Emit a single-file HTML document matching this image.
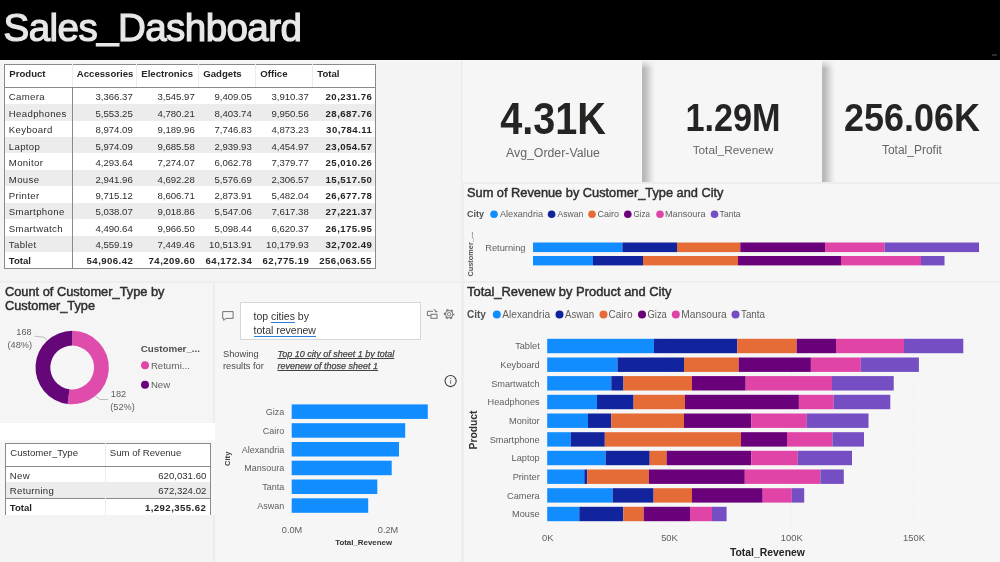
<!DOCTYPE html>
<html lang="en">
<head>
<meta charset="utf-8">
<title>Sales_Dashboard</title>
<style>
*{box-sizing:border-box;margin:0;padding:0}
html,body{width:1000px;height:562px;overflow:hidden}
body{background:#f3f3f3;font-family:'Liberation Sans',sans-serif;color:#333;position:relative}
.abs{position:absolute}
.hdr{left:0;top:0;width:1000px;height:59.7px;background:#000}
.hdr h1{position:absolute;left:3.6px;top:4.6px;font-size:38.6px;line-height:46px;font-weight:400;color:#e8e8e8;letter-spacing:-0.6px;-webkit-text-stroke:1.2px #e8e8e8;white-space:nowrap}
.hdr h1 span{position:relative;top:-2.5px}
.panel{position:absolute;background:#f4f4f4}
table{border-collapse:collapse;table-layout:fixed;font-size:9.6px;color:#2e2e2e;background:#fff}
td,th{white-space:nowrap;overflow:hidden;padding:0 4px;font-weight:400}
.t1{position:absolute;left:4.3px;top:64.2px;width:372px;border:1px solid #8a8a8a}
.t1 th{height:23px;text-align:left;font-weight:700;vertical-align:top;padding-top:3.3px;border-bottom:1px solid #8a8a8a;border-right:1px solid #ececec;color:#252525}
.t1 th:last-child{border-right:none}
.t1 td{height:16.45px;text-align:right;line-height:12px;vertical-align:bottom;padding-bottom:0.8px}
.t1 td:first-child{text-align:left;border-right:1px solid #8a8a8a;letter-spacing:0.35px;padding-left:3.5px}
.t1 td:last-child{font-weight:700;color:#252525;letter-spacing:0.45px;padding-right:3px}
.t1 tr.alt td{background:#ececec}
.t1 tr.tot td{font-weight:700;color:#252525;letter-spacing:0.45px;padding-right:3.5px}
.t1 tr.tot td:first-child{letter-spacing:0}
.card{position:absolute;top:59.8px;height:122.6px;background:#f6f6f6;text-align:center}
.card .v{position:absolute;font-weight:700;color:#252423;white-space:nowrap;transform-origin:50% 50%}
.shd{position:absolute;left:0;top:0;bottom:0;width:14px;background:linear-gradient(to right,#b7b7b7 0,#bcbcbc 22%,#d2d2d2 45%,#e6e6e6 68%,#f1f1f1 86%,#f6f6f6 100%);-webkit-mask-image:linear-gradient(to bottom,transparent 0,#000 9px);mask-image:linear-gradient(to bottom,transparent 0,#000 9px)}
.card .l{position:absolute;font-size:12px;color:#666;white-space:nowrap}
.t2{position:absolute;left:5.3px;top:443px;width:205px;border:1px solid #8a8a8a;border-bottom:none}
.t2 th{height:22.5px;text-align:left;vertical-align:top;padding-top:3px;border-bottom:1px solid #8a8a8a;color:#333}
.t2 th:first-child{border-right:1px solid #ececec}
.t2 td{height:16.3px;line-height:12px;vertical-align:bottom;padding-bottom:0.8px;text-align:right}
.t2 td:first-child{text-align:left;border-right:1px solid #ececec;letter-spacing:0.3px;padding-left:3.5px}
.t2 tr.alt td{background:#ececec}
.t2 tr.tot td{font-weight:700;color:#252525;border-top:1px solid #8a8a8a;letter-spacing:0.45px}
.t2 tr.tot td:first-child{letter-spacing:0}
svg{position:absolute;left:0;top:0;overflow:visible}
svg text{font-family:'Liberation Sans',sans-serif}
.qbox{position:absolute;left:240px;top:302px;width:181px;height:38px;background:#fff;border:1px solid #d6d6d6;font-size:10.5px;line-height:13.9px;color:#333;padding:6.7px 0 0 12.5px}
.qbox u{text-decoration:none;border-bottom:1.4px solid #2b80d6;padding-bottom:0px}
.show{position:absolute;left:223px;top:347.9px;font-size:9.3px;line-height:12.3px;color:#4a4a4a}
.lnk{position:absolute;left:277.5px;top:347.9px;font-size:9px;line-height:12.3px;color:#444;font-style:italic;text-decoration:underline;white-space:nowrap;-webkit-text-stroke:0.25px #444}
</style>
</head>
<body>
<div class="abs hdr"><h1>Sales<span>_</span>Dashboard</h1><i class="abs" style="left:991.5px;top:54px;width:5.5px;height:1.5px;background:#2c2c2c"></i></div>
<div class="panel" style="left:0px;top:59.7px;width:461.2px;height:221.7px;background:#f4f4f4"></div>
<div class="panel" style="left:463.6px;top:182.6px;width:536.4px;height:98.8px;background:#f6f6f6"></div>
<div class="panel" style="left:0px;top:283px;width:212.8px;height:140px;background:#f5f5f5"></div>
<div class="panel" style="left:215.4px;top:283px;width:245.8px;height:279px;background:#f6f6f6"></div>
<div class="panel" style="left:463.6px;top:283px;width:536.4px;height:279px;background:#f6f6f6"></div>
<div class="panel" style="left:0px;top:514.5px;width:212.8px;height:47.5px;background:#f4f4f4"></div>
<div class="panel" style="left:0px;top:59.7px;width:462px;height:2.6px;background:linear-gradient(to bottom,#fbfbfb,#f8f8f8 60%,#f4f4f4)"></div>
<div class="panel" style="left:0px;top:281.4px;width:1000px;height:1.6px;background:#eeeeee"></div>
<div class="panel" style="left:461.2px;top:59.7px;width:2.4px;height:503px;background:#eeeeee"></div>
<div class="panel" style="left:463.6px;top:182.4px;width:536.4px;height:1.2px;background:#ededed"></div>
<div class="panel" style="left:212.8px;top:283px;width:2.6px;height:279px;background:#ececec"></div>
<div class="panel" style="left:0px;top:423px;width:214.5px;height:16.5px;background:#fff"></div>
<div class="panel" style="left:0px;top:439.5px;width:214.5px;height:75px;background:#f7f7f7"></div>
<table class="t1"><colgroup><col style="width:67.5px"><col style="width:64.5px"><col style="width:62px"><col style="width:57px"><col style="width:57px"><col style="width:63px"></colgroup>
<thead><tr><th>Product</th><th>Accessories</th><th>Electronics</th><th>Gadgets</th><th>Office</th><th>Total</th></tr></thead>
<tbody>
<tr><td>Camera</td><td>3,366.37</td><td>3,545.97</td><td>9,409.05</td><td>3,910.37</td><td>20,231.76</td></tr>
<tr class="alt"><td>Headphones</td><td>5,553.25</td><td>4,780.21</td><td>8,403.74</td><td>9,950.56</td><td>28,687.76</td></tr>
<tr><td>Keyboard</td><td>8,974.09</td><td>9,189.96</td><td>7,746.83</td><td>4,873.23</td><td>30,784.11</td></tr>
<tr class="alt"><td>Laptop</td><td>5,974.09</td><td>9,685.58</td><td>2,939.93</td><td>4,454.97</td><td>23,054.57</td></tr>
<tr><td>Monitor</td><td>4,293.64</td><td>7,274.07</td><td>6,062.78</td><td>7,379.77</td><td>25,010.26</td></tr>
<tr class="alt"><td>Mouse</td><td>2,941.96</td><td>4,692.28</td><td>5,576.69</td><td>2,306.57</td><td>15,517.50</td></tr>
<tr><td>Printer</td><td>9,715.12</td><td>8,606.71</td><td>2,873.91</td><td>5,482.04</td><td>26,677.78</td></tr>
<tr class="alt"><td>Smartphone</td><td>5,038.07</td><td>9,018.86</td><td>5,547.06</td><td>7,617.38</td><td>27,221.37</td></tr>
<tr><td>Smartwatch</td><td>4,490.64</td><td>9,966.50</td><td>5,098.44</td><td>6,620.37</td><td>26,175.95</td></tr>
<tr class="alt"><td>Tablet</td><td>4,559.19</td><td>7,449.46</td><td>10,513.91</td><td>10,179.93</td><td>32,702.49</td></tr>
<tr class="tot"><td>Total</td><td>54,906.42</td><td>74,209.60</td><td>64,172.34</td><td>62,775.19</td><td>256,063.55</td></tr>
</tbody></table>
<div class="card" style="left:463.2px;width:178.8px;border:1px solid #f9f9f9;"><div class="v" style="left:-11.200000000000003px;width:200px;top:35.8px;font-size:44px;line-height:44px;transform:scaleX(0.9)">4.31K</div><div class="l" style="left:-11.200000000000003px;width:200px;top:84.8px;font-size:12.3px">Avg_Order-Value</div></div>
<div class="card" style="left:642.2px;width:179.6px;"><div class="shd"></div><div class="v" style="left:-9.200000000000003px;width:200px;top:38.1px;font-size:39px;line-height:39px;transform:scaleX(0.878)">1.29M</div><div class="l" style="left:-9.200000000000003px;width:200px;top:83.4px;font-size:11.8px">Total_Revenew</div></div>
<div class="card" style="left:821.8px;width:178.2px;"><div class="shd"></div><div class="v" style="left:-9.900000000000006px;width:200px;top:38.1px;font-size:39px;line-height:39px;transform:scaleX(0.922)">256.06K</div><div class="l" style="left:-9.900000000000006px;width:200px;top:83.4px;font-size:12px">Total_Profit</div></div>
<table class="t2"><colgroup><col style="width:99.5px"><col style="width:105.5px"></colgroup>
<thead><tr><th>Customer_Type</th><th>Sum of Revenue</th></tr></thead><tbody>
<tr><td>New</td><td>620,031.60</td></tr>
<tr class="alt"><td>Returning</td><td>672,324.02</td></tr>
<tr class="tot"><td>Total</td><td>1,292,355.62</td></tr>
</tbody></table>
<div class="qbox">top <u>cities</u> by<br><u>total revenew</u></div>
<div class="show">Showing<br>results for</div>
<div class="lnk">Top 10 city of sheet 1 by total<br>revenew of those sheet 1</div>
<svg width="1000" height="562" viewBox="0 0 1000 562">
<text x="467" y="196.6" font-size="12.6" fill="#2e2e2e" textLength="256.5" lengthAdjust="spacingAndGlyphs" stroke="#2e2e2e" stroke-width="0.45">Sum of Revenue by Customer_Type and City</text>
<text x="467" y="217.2" font-size="9.0" fill="#505050" font-weight="700">City</text>
<circle cx="494" cy="214.3" r="3.8" fill="#118DFF"/>
<text x="500" y="217.1" font-size="9.2" fill="#605e5c" textLength="43" lengthAdjust="spacingAndGlyphs">Alexandria</text>
<circle cx="551.6" cy="214.3" r="3.8" fill="#12239E"/>
<text x="557.6" y="217.1" font-size="9.2" fill="#605e5c" textLength="25.8" lengthAdjust="spacingAndGlyphs">Aswan</text>
<circle cx="592" cy="214.3" r="3.8" fill="#E66C37"/>
<text x="597.5" y="217.1" font-size="9.2" fill="#605e5c" textLength="21.5" lengthAdjust="spacingAndGlyphs">Cairo</text>
<circle cx="627.8" cy="214.3" r="3.8" fill="#6B007B"/>
<text x="633.5" y="217.1" font-size="9.2" fill="#605e5c" textLength="16.5" lengthAdjust="spacingAndGlyphs">Giza</text>
<circle cx="660" cy="214.3" r="3.8" fill="#E044A7"/>
<text x="665" y="217.1" font-size="9.2" fill="#605e5c" textLength="40.5" lengthAdjust="spacingAndGlyphs">Mansoura</text>
<circle cx="714.5" cy="214.3" r="3.8" fill="#744EC2"/>
<text x="719.6" y="217.1" font-size="9.2" fill="#605e5c" textLength="21" lengthAdjust="spacingAndGlyphs">Tanta</text>
<text x="525.5" y="250.8" font-size="9.3" fill="#605e5c" text-anchor="end">Returning</text>
<text transform="translate(473.2,276.5) rotate(-90)" font-size="7.7" font-weight="700" fill="#555" textLength="44.5" lengthAdjust="spacingAndGlyphs">Customer_...</text>
<rect x="533.0" y="242.5" width="89.4" height="9.6" fill="#118DFF"/>
<rect x="622.4" y="242.5" width="54.6" height="9.6" fill="#12239E"/>
<rect x="677.0" y="242.5" width="63.3" height="9.6" fill="#E66C37"/>
<rect x="740.3" y="242.5" width="84.7" height="9.6" fill="#6B007B"/>
<rect x="825.0" y="242.5" width="59.5" height="9.6" fill="#E044A7"/>
<rect x="884.5" y="242.5" width="94.5" height="9.6" fill="#744EC2"/>
<rect x="533.0" y="256" width="60.0" height="9.4" fill="#118DFF"/>
<rect x="593.0" y="256" width="50.0" height="9.4" fill="#12239E"/>
<rect x="643.0" y="256" width="95.0" height="9.4" fill="#E66C37"/>
<rect x="738.0" y="256" width="103.0" height="9.4" fill="#6B007B"/>
<rect x="841.0" y="256" width="80.0" height="9.4" fill="#E044A7"/>
<rect x="921.0" y="256" width="23.5" height="9.4" fill="#744EC2"/>
<circle cx="72.2" cy="367.5" r="22.4" fill="#f6f6f6"/>
<path d="M72.20,330.80 A36.7,36.7 0 1 1 67.60,403.91 L69.46,389.23 A21.9,21.9 0 1 0 72.20,345.60 Z" fill="#DF4CAC"/>
<path d="M67.60,403.91 A36.7,36.7 0 0 1 72.20,330.80 L72.20,345.60 A21.9,21.9 0 0 0 69.46,389.23 Z" fill="#650679"/>
<text x="5" y="296.2" font-size="12.6" fill="#2e2e2e" textLength="159.5" lengthAdjust="spacingAndGlyphs" stroke="#2e2e2e" stroke-width="0.45">Count of Customer_Type by</text>
<text x="5" y="310.2" font-size="12.6" fill="#2e2e2e" textLength="90" lengthAdjust="spacingAndGlyphs" stroke="#2e2e2e" stroke-width="0.45">Customer_Type</text>
<text x="24" y="334.6" font-size="9.2" fill="#605e5c" text-anchor="middle">168</text>
<text x="19.8" y="348" font-size="9.2" fill="#605e5c" text-anchor="middle">(48%)</text>
<text x="118.5" y="396.8" font-size="9.2" fill="#605e5c" text-anchor="middle">182</text>
<text x="122.5" y="410" font-size="9.2" fill="#605e5c" text-anchor="middle">(52%)</text>
<polyline points="34.5,336.2 44,337.2 47.5,340.5" fill="none" stroke="#bcbcbc" stroke-width="1"/>
<polyline points="94.8,395.5 100,399.5 108,399.5" fill="none" stroke="#bcbcbc" stroke-width="1"/>
<text x="140.7" y="352.3" font-size="9.8" fill="#505050" font-weight="700">Customer_...</text>
<circle cx="145" cy="365.3" r="4" fill="#E044A7"/>
<text x="150.9" y="368.7" font-size="9.6" fill="#605e5c">Returni...</text>
<circle cx="145" cy="384.8" r="4" fill="#6B007B"/>
<text x="150.9" y="388.2" font-size="9.6" fill="#605e5c">New</text>
<rect x="291.7" y="404.4" width="136.1" height="14.5" fill="#118DFF"/>
<text x="284.3" y="415.0" font-size="9.0" fill="#605e5c" text-anchor="end">Giza</text>
<rect x="291.7" y="423.2" width="113.5" height="14.5" fill="#118DFF"/>
<text x="284.3" y="433.8" font-size="9.0" fill="#605e5c" text-anchor="end">Cairo</text>
<rect x="291.7" y="442.0" width="107.3" height="14.5" fill="#118DFF"/>
<text x="284.3" y="452.6" font-size="9.0" fill="#605e5c" text-anchor="end">Alexandria</text>
<rect x="291.7" y="460.7" width="100.0" height="14.5" fill="#118DFF"/>
<text x="284.3" y="471.3" font-size="9.0" fill="#605e5c" text-anchor="end">Mansoura</text>
<rect x="291.7" y="479.5" width="85.6" height="14.5" fill="#118DFF"/>
<text x="284.3" y="490.1" font-size="9.0" fill="#605e5c" text-anchor="end">Tanta</text>
<rect x="291.7" y="498.3" width="76.5" height="14.5" fill="#118DFF"/>
<text x="284.3" y="508.9" font-size="9.0" fill="#605e5c" text-anchor="end">Aswan</text>
<text x="292" y="532.8" font-size="9.2" fill="#605e5c" text-anchor="middle">0.0M</text>
<text x="388" y="532.8" font-size="9.2" fill="#605e5c" text-anchor="middle">0.2M</text>
<text x="363.6" y="545" font-size="7.9" fill="#333" font-weight="700" text-anchor="middle">Total_Revenew</text>
<text transform="translate(229.6,458.8) rotate(-90)" font-size="7.7" font-weight="700" fill="#444" text-anchor="middle">City</text>
<path d="M222.7,311.6 h10.4 v6.8 h-7.2 l-2.2,2 v-2 h-1 z" fill="none" stroke="#727272" stroke-width="1" stroke-linejoin="round"/>
<g fill="none" stroke="#727272" stroke-width="1"><path d="M430.6,315.6 h-3.2 v-4.3 h5.6"/><rect x="431" y="314.3" width="6" height="4"/><path d="M433.6,309.6 q2.6,0 2.6,2.4 M434.9,311 l1.3,1.3 l1.3,-1.3"/></g>
<g fill="none" stroke="#727272"><circle cx="449.1" cy="314.2" r="1.7" stroke-width="0.9"/><circle cx="449.1" cy="314.2" r="3.7" stroke-width="1"/><circle cx="449.1" cy="314.2" r="4.6" stroke-width="1.3" stroke-dasharray="2.2 2.62" stroke-dashoffset="1.1"/></g>
<circle cx="450.6" cy="381" r="5.6" fill="none" stroke="#3c3c3c" stroke-width="1.05"/><path d="M450.6,380.2 v3.6 M450.6,378 v1" stroke="#666" stroke-width="0.9"/>
<text x="467" y="296" font-size="12.6" fill="#2e2e2e" textLength="204.5" lengthAdjust="spacingAndGlyphs" stroke="#2e2e2e" stroke-width="0.45">Total_Revenew by Product and City</text>
<text x="467" y="317.9" font-size="10.0" fill="#505050" font-weight="700">City</text>
<circle cx="496.8" cy="314.4" r="4" fill="#118DFF"/>
<text x="502.3" y="317.9" font-size="10.2" fill="#605e5c" textLength="47.7" lengthAdjust="spacingAndGlyphs">Alexandria</text>
<circle cx="559.5" cy="314.4" r="4" fill="#12239E"/>
<text x="565" y="317.9" font-size="10.2" fill="#605e5c" textLength="29" lengthAdjust="spacingAndGlyphs">Aswan</text>
<circle cx="603.5" cy="314.4" r="4" fill="#E66C37"/>
<text x="608.5" y="317.9" font-size="10.2" fill="#605e5c" textLength="24" lengthAdjust="spacingAndGlyphs">Cairo</text>
<circle cx="642" cy="314.4" r="4" fill="#6B007B"/>
<text x="647.5" y="317.9" font-size="10.2" fill="#605e5c" textLength="19.3" lengthAdjust="spacingAndGlyphs">Giza</text>
<circle cx="675.8" cy="314.4" r="4" fill="#E044A7"/>
<text x="681.3" y="317.9" font-size="10.2" fill="#605e5c" textLength="45.5" lengthAdjust="spacingAndGlyphs">Mansoura</text>
<circle cx="735.5" cy="314.4" r="4" fill="#744EC2"/>
<text x="741" y="317.9" font-size="10.2" fill="#605e5c" textLength="24" lengthAdjust="spacingAndGlyphs">Tanta</text>
<line x1="547.2" y1="336" x2="547.2" y2="528" stroke="#e2e2e2" stroke-width="0.7" stroke-dasharray="1 2"/>
<line x1="669.5" y1="336" x2="669.5" y2="528" stroke="#e2e2e2" stroke-width="0.7" stroke-dasharray="1 2"/>
<line x1="791.8" y1="336" x2="791.8" y2="528" stroke="#e2e2e2" stroke-width="0.7" stroke-dasharray="1 2"/>
<line x1="914" y1="336" x2="914" y2="528" stroke="#e2e2e2" stroke-width="0.7" stroke-dasharray="1 2"/>
<rect x="547.2" y="338.8" width="106.8" height="14.4" fill="#118DFF"/>
<rect x="654.0" y="338.8" width="83.3" height="14.4" fill="#12239E"/>
<rect x="737.3" y="338.8" width="59.4" height="14.4" fill="#E66C37"/>
<rect x="796.7" y="338.8" width="39.3" height="14.4" fill="#6B007B"/>
<rect x="836.0" y="338.8" width="68.0" height="14.4" fill="#E044A7"/>
<rect x="904.0" y="338.8" width="59.3" height="14.4" fill="#744EC2"/>
<text x="539.7" y="349.4" font-size="9.2" fill="#605e5c" text-anchor="end">Tablet</text>
<rect x="547.2" y="357.5" width="70.3" height="14.4" fill="#118DFF"/>
<rect x="617.5" y="357.5" width="66.5" height="14.4" fill="#12239E"/>
<rect x="684.0" y="357.5" width="54.7" height="14.4" fill="#E66C37"/>
<rect x="738.7" y="357.5" width="72.2" height="14.4" fill="#6B007B"/>
<rect x="810.9" y="357.5" width="49.9" height="14.4" fill="#E044A7"/>
<rect x="860.8" y="357.5" width="58.1" height="14.4" fill="#744EC2"/>
<text x="539.7" y="368.1" font-size="9.2" fill="#605e5c" text-anchor="end">Keyboard</text>
<rect x="547.2" y="376.1" width="64.1" height="14.4" fill="#118DFF"/>
<rect x="611.3" y="376.1" width="12.2" height="14.4" fill="#12239E"/>
<rect x="623.5" y="376.1" width="68.5" height="14.4" fill="#E66C37"/>
<rect x="692.0" y="376.1" width="53.7" height="14.4" fill="#6B007B"/>
<rect x="745.7" y="376.1" width="86.3" height="14.4" fill="#E044A7"/>
<rect x="832.0" y="376.1" width="61.7" height="14.4" fill="#744EC2"/>
<text x="539.7" y="386.7" font-size="9.2" fill="#605e5c" text-anchor="end">Smartwatch</text>
<rect x="547.2" y="394.8" width="49.8" height="14.4" fill="#118DFF"/>
<rect x="597.0" y="394.8" width="36.6" height="14.4" fill="#12239E"/>
<rect x="633.6" y="394.8" width="51.4" height="14.4" fill="#E66C37"/>
<rect x="685.0" y="394.8" width="113.9" height="14.4" fill="#6B007B"/>
<rect x="798.9" y="394.8" width="34.8" height="14.4" fill="#E044A7"/>
<rect x="833.7" y="394.8" width="56.6" height="14.4" fill="#744EC2"/>
<text x="539.7" y="405.4" font-size="9.2" fill="#605e5c" text-anchor="end">Headphones</text>
<rect x="547.2" y="413.5" width="40.8" height="14.4" fill="#118DFF"/>
<rect x="588.0" y="413.5" width="23.3" height="14.4" fill="#12239E"/>
<rect x="611.3" y="413.5" width="72.7" height="14.4" fill="#E66C37"/>
<rect x="684.0" y="413.5" width="67.2" height="14.4" fill="#6B007B"/>
<rect x="751.2" y="413.5" width="55.6" height="14.4" fill="#E044A7"/>
<rect x="806.8" y="413.5" width="61.7" height="14.4" fill="#744EC2"/>
<text x="539.7" y="424.1" font-size="9.2" fill="#605e5c" text-anchor="end">Monitor</text>
<rect x="547.2" y="432.2" width="23.5" height="14.4" fill="#118DFF"/>
<rect x="570.7" y="432.2" width="34.1" height="14.4" fill="#12239E"/>
<rect x="604.8" y="432.2" width="136.2" height="14.4" fill="#E66C37"/>
<rect x="741.0" y="432.2" width="46.0" height="14.4" fill="#6B007B"/>
<rect x="787.0" y="432.2" width="45.4" height="14.4" fill="#E044A7"/>
<rect x="832.4" y="432.2" width="31.6" height="14.4" fill="#744EC2"/>
<text x="539.7" y="442.8" font-size="9.2" fill="#605e5c" text-anchor="end">Smartphone</text>
<rect x="547.2" y="450.8" width="58.4" height="14.4" fill="#118DFF"/>
<rect x="605.6" y="450.8" width="44.1" height="14.4" fill="#12239E"/>
<rect x="649.7" y="450.8" width="16.9" height="14.4" fill="#E66C37"/>
<rect x="666.6" y="450.8" width="84.6" height="14.4" fill="#6B007B"/>
<rect x="751.2" y="450.8" width="46.6" height="14.4" fill="#E044A7"/>
<rect x="797.8" y="450.8" width="54.2" height="14.4" fill="#744EC2"/>
<text x="539.7" y="461.4" font-size="9.2" fill="#605e5c" text-anchor="end">Laptop</text>
<rect x="547.2" y="469.5" width="37.1" height="14.4" fill="#118DFF"/>
<rect x="584.3" y="469.5" width="3.0" height="14.4" fill="#12239E"/>
<rect x="587.3" y="469.5" width="61.6" height="14.4" fill="#E66C37"/>
<rect x="648.9" y="469.5" width="95.9" height="14.4" fill="#6B007B"/>
<rect x="744.8" y="469.5" width="75.6" height="14.4" fill="#E044A7"/>
<rect x="820.4" y="469.5" width="23.4" height="14.4" fill="#744EC2"/>
<text x="539.7" y="480.1" font-size="9.2" fill="#605e5c" text-anchor="end">Printer</text>
<rect x="547.2" y="488.2" width="65.4" height="14.4" fill="#118DFF"/>
<rect x="612.6" y="488.2" width="41.0" height="14.4" fill="#12239E"/>
<rect x="653.6" y="488.2" width="38.4" height="14.4" fill="#E66C37"/>
<rect x="692.0" y="488.2" width="70.7" height="14.4" fill="#6B007B"/>
<rect x="762.7" y="488.2" width="29.1" height="14.4" fill="#E044A7"/>
<rect x="791.8" y="488.2" width="12.4" height="14.4" fill="#744EC2"/>
<text x="539.7" y="498.8" font-size="9.2" fill="#605e5c" text-anchor="end">Camera</text>
<rect x="547.2" y="506.8" width="32.1" height="14.4" fill="#118DFF"/>
<rect x="579.3" y="506.8" width="44.0" height="14.4" fill="#12239E"/>
<rect x="623.3" y="506.8" width="20.4" height="14.4" fill="#E66C37"/>
<rect x="643.7" y="506.8" width="46.3" height="14.4" fill="#6B007B"/>
<rect x="690.0" y="506.8" width="22.0" height="14.4" fill="#E044A7"/>
<rect x="712.0" y="506.8" width="14.6" height="14.4" fill="#744EC2"/>
<text x="539.7" y="517.4" font-size="9.2" fill="#605e5c" text-anchor="end">Mouse</text>
<text x="547.7" y="541" font-size="9.4" fill="#605e5c" text-anchor="middle">0K</text>
<text x="669.5" y="541" font-size="9.4" fill="#605e5c" text-anchor="middle">50K</text>
<text x="791.8" y="541" font-size="9.4" fill="#605e5c" text-anchor="middle">100K</text>
<text x="914" y="541" font-size="9.4" fill="#605e5c" text-anchor="middle">150K</text>
<text x="767.4" y="555.8" font-size="10.6" fill="#252423" font-weight="700" text-anchor="middle" textLength="75" lengthAdjust="spacingAndGlyphs">Total_Revenew</text>
<text transform="translate(476.5,430) rotate(-90)" font-size="10.3" font-weight="700" fill="#333" text-anchor="middle">Product</text>
</svg>
</body>
</html>
